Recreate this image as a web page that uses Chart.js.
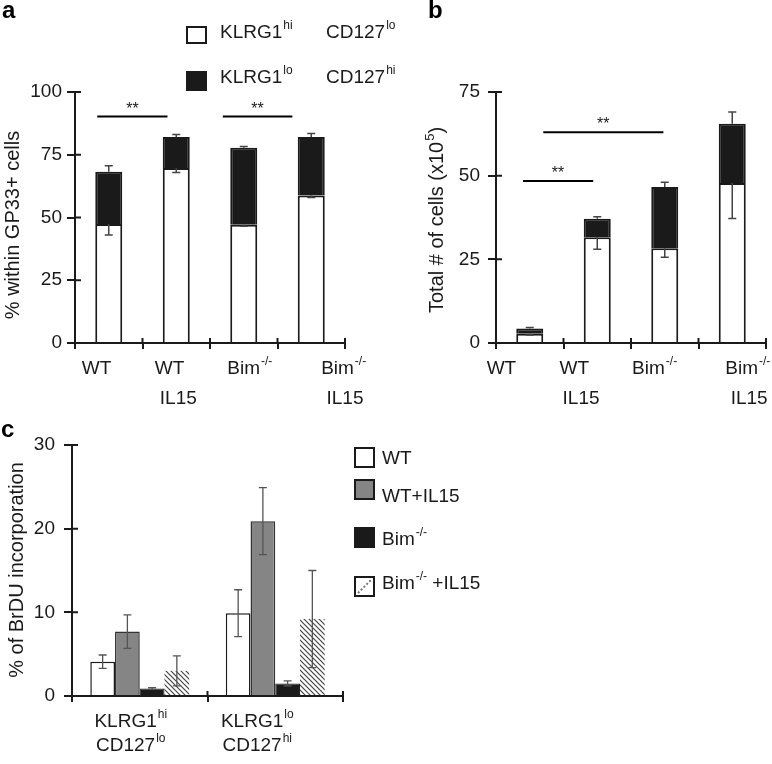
<!DOCTYPE html>
<html>
<head>
<meta charset="utf-8">
<script src="https://cdn.jsdelivr.net/npm/chart.js@4.4.0/dist/chart.umd.min.js"></script>
<style>
  html, body { margin: 0; padding: 0; background: #fff; }
  #fig { position: relative; width: 772px; height: 764px; overflow: hidden; }
  #fig canvas { position: absolute; }
</style>
</head>
<body>
<div id="fig">
  <canvas id="chartB" width="382" height="410" style="left:390px;top:0"></canvas>
  <canvas id="chartA" width="410" height="410" style="left:0;top:0"></canvas>
  <canvas id="chartC" width="772" height="374" style="left:0;top:390px"></canvas>
</div>
<script>
const FONT = '"Liberation Sans", Arial, Helvetica, sans-serif';
const INK = '#1a1a1a';

// --- panels a & b : four groups, stacked bars ---
const groupTop = ['WT', 'WT', 'Bim^{-/-}', 'Bim^{-/-}'];
const groupBottom = ['', 'IL15', '', 'IL15'];

// a: % within GP33+ cells
const ticksA = [0, 25, 50, 75, 100];
const hiA = [47.4, 69.7, 47.1, 58.8];     // KLRG1hi CD127lo (white, bottom)
const loA = [20.8, 12.4, 30.7, 23.3];     // KLRG1lo CD127hi (black, stacked on top)
const hiErrA = [4.4, 1.8, 0.6, 0.8];
const totErrA = [2.4, 1.0, 0.5, 1.4];
const sigA = [[-0.17, 0.87, 90.2], [1.69, 2.72, 90.2]];

// b: total # of cells (x10^5)
const ticksB = [0, 25, 50, 75];
const hiB = [2.8, 31.6, 28.3, 47.8];
const loB = [1.5, 5.5, 18.3, 17.7];
const hiErrB = [0.4, 3.6, 2.7, 10.6];
const totErrB = [0.3, 0.6, 1.4, 3.5];
const sigB = [[-0.1, 0.94, 48.4], [0.2, 1.98, 63]];

// --- panel c : % of BrDU incorporation ---
const ticksC = [0, 10, 20, 30];
const subsetTop = ['KLRG1^{hi}', 'KLRG1^{lo}'];
const subsetBottom = ['CD127^{lo}', 'CD127^{hi}'];
const seriesC = ['WT', 'WT+IL15', 'Bim^{-/-}', 'Bim^{-/-} +IL15'];
const wtC = [4.1, 9.9];
const wtIlC = [7.7, 20.9];
const bimC = [0.9, 1.5];
const bimIlC = [3.0, 9.2];
const wtErrC = [0.8, 2.8];
const wtIlErrC = [2.0, 4.0];
const bimErrC = [0.1, 0.3];
const bimIlErrC = [1.8, 5.8];

Chart.defaults.font.family = FONT;

// text with ^{superscript} parts, yMid = middle of capitals
function richText(ctx, s, x, yMid, size, align) {
  const parts = [];
  const re = /\^\{([^}]*)\}/g;
  let last = 0, m;
  while ((m = re.exec(s))) {
    if (m.index > last) parts.push({ t: s.slice(last, m.index), sup: false });
    parts.push({ t: m[1], sup: true });
    last = re.lastIndex;
  }
  if (last < s.length) parts.push({ t: s.slice(last), sup: false });
  const supSize = Math.round(size * 0.65);
  let w = 0;
  parts.forEach(p => {
    ctx.font = (p.sup ? supSize : size) + 'px ' + FONT;
    p.w = ctx.measureText(p.t).width + (p.sup ? 1 : 0);
    w += p.w;
  });
  let cx = align === 'center' ? x - w / 2 : (align === 'right' ? x - w : x);
  const base = yMid + size * 0.36;
  ctx.textAlign = 'left';
  ctx.textBaseline = 'alphabetic';
  ctx.fillStyle = INK;
  parts.forEach(p => {
    ctx.font = (p.sup ? supSize : size) + 'px ' + FONT;
    ctx.fillText(p.t, cx + (p.sup ? 1 : 0), p.sup ? base - size * 0.44 : base);
    cx += p.w;
  });
}

function vText(ctx, s, x, y, size) {
  ctx.save();
  ctx.translate(x, y);
  ctx.rotate(-Math.PI / 2);
  richText(ctx, s, 0, 0, size, 'center');
  ctx.restore();
}

function letter(ctx, s, x, y) {
  ctx.save();
  ctx.font = 'bold 24px ' + FONT;
  ctx.fillStyle = '#000';
  ctx.textAlign = 'left';
  ctx.textBaseline = 'alphabetic';
  ctx.fillText(s, x, y);
  ctx.restore();
}

function box(ctx, x, y, w, h, fill) {
  ctx.save();
  ctx.fillStyle = fill;
  ctx.fillRect(x, y, w, h);
  ctx.strokeStyle = INK;
  ctx.lineWidth = 2;
  ctx.strokeRect(x, y, w, h);
  ctx.restore();
}

function errLine(ctx, x, y1, y2, cap, color, lw, capBoth) {
  ctx.save();
  ctx.strokeStyle = color;
  ctx.lineWidth = lw;
  ctx.beginPath();
  ctx.moveTo(x, y1); ctx.lineTo(x, y2);
  ctx.moveTo(x - cap / 2, y2); ctx.lineTo(x + cap / 2, y2);
  if (capBoth) { ctx.moveTo(x - cap / 2, y1); ctx.lineTo(x + cap / 2, y1); }
  ctx.stroke();
  ctx.restore();
}

// tick marks in the reference cross the axis lines: add the inner half
function innerTicks(chart) {
  const ctx = chart.ctx, a = chart.chartArea, x = chart.scales.x, y = chart.scales.y;
  ctx.save();
  ctx.strokeStyle = INK;
  ctx.lineWidth = 2;
  ctx.beginPath();
  y.ticks.forEach(t => {
    const p = y.getPixelForValue(t.value);
    ctx.moveTo(a.left, p); ctx.lineTo(a.left + 6, p);
  });
  for (let i = 1; i <= x.ticks.length; i++) {
    const p = x.getPixelForValue(i - 0.5);
    ctx.moveTo(p, a.bottom); ctx.lineTo(p, a.bottom - 5);
  }
  ctx.stroke();
  ctx.restore();
}

function stackErrors(chart, hi, lo, hiErr, totErr) {
  const ctx = chart.ctx, y = chart.scales.y;
  const m0 = chart.getDatasetMeta(0), m1 = chart.getDatasetMeta(1);
  m0.data.forEach((bar, i) => {
    errLine(ctx, bar.x, bar.y, y.getPixelForValue(hi[i] - hiErr[i]), 8, '#444', 1.5);
    const top = m1.data[i];
    errLine(ctx, top.x, top.y, y.getPixelForValue(hi[i] + lo[i] + totErr[i]), 8, '#444', 1.5);
  });
}

function sigLines(chart, sig, starDy) {
  const ctx = chart.ctx, x = chart.scales.x, y = chart.scales.y;
  ctx.save();
  ctx.strokeStyle = '#000';
  ctx.lineWidth = 2;
  sig.forEach(s => {
    const x1 = x.getPixelForValue(s[0]), x2 = x.getPixelForValue(s[1]);
    const yy = y.getPixelForValue(s[2]);
    ctx.beginPath(); ctx.moveTo(x1, yy); ctx.lineTo(x2, yy); ctx.stroke();
    ctx.font = '16px ' + FONT;
    ctx.fillStyle = INK;
    ctx.textAlign = 'center';
    ctx.textBaseline = 'alphabetic';
    ctx.fillText('**', (x1 + x2) / 2, yy - starDy);
  });
  ctx.restore();
}

function groupLabels(chart, topShift, botShift, rowTop, rowBot) {
  const ctx = chart.ctx, x = chart.scales.x;
  groupTop.forEach((t, i) => richText(ctx, t, x.getPixelForValue(i + topShift[i]), rowTop, 19, 'center'));
  groupBottom.forEach((t, i) => {
    if (t) richText(ctx, t, x.getPixelForValue(i + botShift[i]), rowBot, 19, 'center');
  });
}

function yScale(ticks, width, pad, stacked) {
  return {
    stacked: stacked, z: 1,
    min: ticks[0], max: ticks[ticks.length - 1],
    afterBuildTicks: s => { s.ticks = ticks.map(v => ({ value: v })); },
    afterFit: s => { s.width = width; },
    ticks: { color: INK, font: { size: 19 }, padding: pad },
    grid: { drawOnChartArea: false, tickLength: 8, color: INK, lineWidth: 2 },
    border: { color: INK, width: 2 }
  };
}

function xScale(stacked) {
  return {
    stacked: stacked, z: 1,
    afterFit: s => { s.height = 0; },
    ticks: { display: false },
    grid: { drawOnChartArea: false, tickLength: 6, color: INK, lineWidth: 2, offset: true },
    border: { color: INK, width: 2 }
  };
}

function stackedDatasets(hi, lo) {
  return [
    { data: hi, backgroundColor: '#fff', borderColor: INK, borderWidth: 2 },
    { data: lo, backgroundColor: INK, borderColor: INK, borderWidth: 2 }
  ];
}

const common = {
  responsive: false, animation: false, events: [],
  plugins: { legend: { display: false }, tooltip: { enabled: false } }
};

// ---------- a ----------
new Chart(document.getElementById('chartA'), {
  type: 'bar',
  data: { labels: groupTop, datasets: stackedDatasets(hiA, loA) },
  options: Object.assign({}, common, {
    layout: { padding: { left: 0, top: 92, right: 65, bottom: 67 } },
    datasets: { bar: { categoryPercentage: 1, barPercentage: 0.4 } },
    scales: { x: xScale(true), y: yScale(ticksA, 75, 5, true) }
  }),
  plugins: [{
    id: 'panelA',
    afterDatasetsDraw(chart) { stackErrors(chart, hiA, loA, hiErrA, totErrA); },
    afterDraw(chart) {
      const ctx = chart.ctx;
      innerTicks(chart);
      sigLines(chart, sigA, 3);
      groupLabels(chart, [-0.18, -0.1, 0.09, 0.48], [0, 0.03, 0, 0.5], 367, 397);
      vText(ctx, '% within GP33+ cells', 12, 225, 20);
      letter(ctx, 'a', 2, 18);
      box(ctx, 187, 27, 19, 16, '#fff');
      box(ctx, 187, 72, 19, 18, INK);
      richText(ctx, 'KLRG1^{hi}', 220, 31, 19, 'left');
      richText(ctx, 'CD127^{lo}', 326, 31, 19, 'left');
      richText(ctx, 'KLRG1^{lo}', 220, 76, 19, 'left');
      richText(ctx, 'CD127^{hi}', 326, 76, 19, 'left');
    }
  }]
});

// ---------- b ----------
new Chart(document.getElementById('chartB'), {
  type: 'bar',
  data: { labels: groupTop, datasets: stackedDatasets(hiB, loB) },
  options: Object.assign({}, common, {
    layout: { padding: { left: 0, top: 92, right: 6, bottom: 67 } },
    datasets: { bar: { categoryPercentage: 1, barPercentage: 0.4 } },
    scales: { x: xScale(true), y: yScale(ticksB, 106, 8, true) }
  }),
  plugins: [{
    id: 'panelB',
    afterDatasetsDraw(chart) { stackErrors(chart, hiB, loB, hiErrB, totErrB); },
    afterDraw(chart) {
      const ctx = chart.ctx;
      innerTicks(chart);
      sigLines(chart, sigB, 3);
      groupLabels(chart, [-0.42, -0.34, -0.15, 0.23], [0, -0.24, 0, 0.25], 367, 397);
      vText(ctx, 'Total # of cells (x10^{5})', 46, 220, 20);
      letter(ctx, 'b', 38, 18);
    }
  }]
});

// ---------- c ----------
function hatch(ctx) {
  const c = document.createElement('canvas');
  c.width = c.height = 5;
  const g = c.getContext('2d');
  g.fillStyle = '#fff';
  g.fillRect(0, 0, 5, 5);
  g.strokeStyle = '#444';
  g.lineWidth = 1.2;
  g.beginPath();
  g.moveTo(-1, -1); g.lineTo(6, 6);
  g.moveTo(-1, 4); g.lineTo(1, 6);
  g.moveTo(4, -1); g.lineTo(6, 1);
  g.stroke();
  return ctx.createPattern(c, 'repeat');
}

const cvC = document.getElementById('chartC');
const hatchFill = hatch(cvC.getContext('2d'));
const valsC = [wtC, wtIlC, bimC, bimIlC];
const errsC = [wtErrC, wtIlErrC, bimErrC, bimIlErrC];

new Chart(cvC, {
  type: 'bar',
  data: {
    labels: subsetTop,
    datasets: [
      { label: seriesC[0], data: wtC, backgroundColor: '#fff', borderColor: INK, borderWidth: 1.5 },
      { label: seriesC[1], data: wtIlC, backgroundColor: '#858585', borderColor: '#333', borderWidth: 1.5 },
      { label: seriesC[2], data: bimC, backgroundColor: INK, borderColor: INK, borderWidth: 1 },
      { label: seriesC[3], data: bimIlC, backgroundColor: hatchFill, borderWidth: 0 }
    ]
  },
  options: Object.assign({}, common, {
    layout: { padding: { left: 0, top: 55, right: 429, bottom: 68 } },
    datasets: { bar: { categoryPercentage: 0.73, barPercentage: 1 } },
    scales: { x: xScale(false), y: yScale(ticksC, 72, 9, false) }
  }),
  plugins: [{
    id: 'panelC',
    afterDatasetsDraw(chart) {
      const ctx = chart.ctx, y = chart.scales.y;
      valsC.forEach((vals, d) => {
        chart.getDatasetMeta(d).data.forEach((bar, i) => {
          errLine(ctx, bar.x, y.getPixelForValue(vals[i] - errsC[d][i]),
            y.getPixelForValue(vals[i] + errsC[d][i]), 8, '#555', 1.3, true);
        });
      });
    },
    afterDraw(chart) {
      const ctx = chart.ctx, x = chart.scales.x;
      innerTicks(chart);
      const shift = [-9, -18];
      subsetTop.forEach((t, i) => richText(ctx, t, x.getPixelForValue(i) + shift[i], 330, 19, 'center'));
      subsetBottom.forEach((t, i) => richText(ctx, t, x.getPixelForValue(i) + shift[i], 354, 19, 'center'));
      vText(ctx, '% of BrDU incorporation', 16, 180, 20);
      letter(ctx, 'c', 1, 47);
      // legend
      const boxY = [58, 90, 138, 187];
      const textY = [67, 105, 148, 192];
      const fills = ['#fff', '#858585', INK, '#fff'];
      seriesC.forEach((s, i) => {
        box(ctx, 355, boxY[i], 19, 19, fills[i]);
        richText(ctx, s, 382, textY[i], 19, 'left');
      });
      // dotted diagonal in the hatched legend key
      ctx.save();
      ctx.strokeStyle = '#777';
      ctx.lineWidth = 2;
      ctx.setLineDash([2, 2]);
      ctx.beginPath();
      ctx.moveTo(358, boxY[3] + 16);
      ctx.lineTo(371, boxY[3] + 3);
      ctx.stroke();
      ctx.restore();
    }
  }]
});
</script>
</body>
</html>
